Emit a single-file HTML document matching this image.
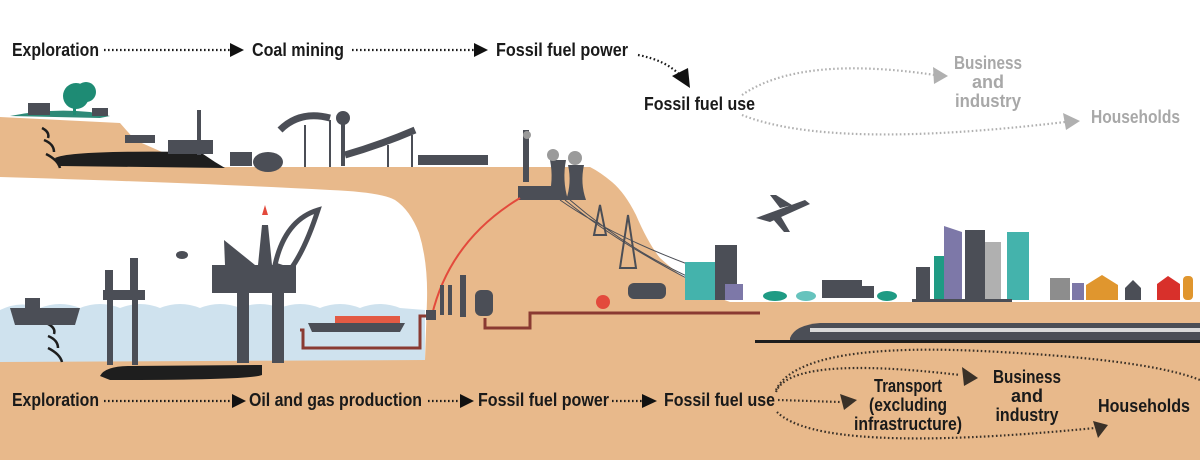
<!DOCTYPE html>
<html><head><meta charset="utf-8"><style>
html,body{margin:0;padding:0;background:#fff}
svg{display:block}
text{font-family:"Liberation Sans Narrow","Liberation Sans",sans-serif;font-weight:bold;font-size:18px;fill:#1a1a1a}
.g{fill:#a8a8a8}
.d{fill:none;stroke:#1a1a1a;stroke-width:2.2;stroke-dasharray:1.6 2.4}
.dg{fill:none;stroke:#b0b0b0;stroke-width:2.2;stroke-dasharray:1.6 2.4}
.d2{fill:none;stroke:#3a3128;stroke-width:2.2;stroke-dasharray:1.6 2.4}
.ic{fill:#4b4e56}
</style></head><body>
<svg width="1200" height="460" viewBox="0 0 1200 460" xmlns="http://www.w3.org/2000/svg">
<path d="M0 310 Q20 300 40 308 Q60 300 80 308 Q100 300 120 308 Q140 300 160 308 Q180 300 200 308 Q220 300 240 308 Q260 300 280 308 Q300 300 320 308 Q340 300 360 308 Q380 300 400 308 L425 310 L425 365 L0 365Z" fill="#cfe2ee"/>
<path d="M0 117 L120 123 L135 140 L162 152 L180 167 L590 167 Q600 172 612 182 Q625 193 636 215 Q648 243 660 258 Q690 285 716 297 L730 302 L1200 302 L1200 460 L0 460 L0 362 L425 360 L427 300 Q428 262 419 233 Q410 210 395 200 Q380 192 330 190 Q200 183 0 177 Z" fill="#e8b98b"/>
<path d="M10 116 Q50 108 90 112 L110 116 L100 118Z" fill="#2e8a78"/>
<path d="M55 158 Q70 150 200 152 L215 162 L225 168 L60 166Z" fill="#1e1e1e"/>
<path d="M100 376 Q105 366 130 366 L262 365 L262 375 Q250 380 110 380Z" fill="#1e1e1e"/>
<g fill="none" stroke="#1e1e1e" stroke-width="2.5">
<path d="M42 128 q8 4 6 10"/><path d="M44 140 q10 4 10 12"/><path d="M46 154 q12 6 14 14"/>
<path d="M48 324 q8 4 6 10"/><path d="M48 336 q10 4 10 12"/><path d="M48 348 q12 6 14 14"/>
</g>
<circle cx="76" cy="96" r="13" fill="#1e8b74"/><circle cx="86" cy="92" r="10" fill="#1e8b74"/>
<rect x="73" y="100" width="3" height="15" fill="#1e8b74"/>
<rect x="28" y="103" width="22" height="12" class="ic"/>
<rect x="92" y="108" width="16" height="8" class="ic"/>
<rect x="125" y="135" width="30" height="8" class="ic"/>
<rect x="168" y="140" width="45" height="14" class="ic"/>
<rect x="197" y="110" width="4" height="45" class="ic"/>
<rect x="230" y="152" width="22" height="14" class="ic"/>
<ellipse cx="268" cy="162" rx="15" ry="10" class="ic"/>
<path d="M280 130 Q300 110 330 118" stroke="#4b4e56" stroke-width="7" fill="none"/>
<path d="M345 155 Q380 145 415 130" stroke="#4b4e56" stroke-width="7" fill="none"/>
<g stroke="#4b4e56" stroke-width="2"><line x1="305" y1="125" x2="305" y2="167"/><line x1="330" y1="120" x2="330" y2="167"/><line x1="388" y1="145" x2="388" y2="167"/><line x1="412" y1="135" x2="412" y2="167"/></g>
<circle cx="343" cy="118" r="7" class="ic"/><rect x="341" y="118" width="4" height="48" class="ic"/>
<rect x="418" y="155" width="70" height="10" class="ic"/>
<rect x="523" y="130" width="6" height="52" class="ic"/>
<path d="M550 160 L566 160 Q562 180 568 200 L548 200 Q554 180 550 160Z" class="ic"/>
<path d="M568 165 L584 165 Q580 183 586 200 L566 200 Q572 183 568 165Z" class="ic"/>
<rect x="518" y="186" width="34" height="14" class="ic"/>
<circle cx="553" cy="155" r="6" fill="#9a9a9a"/><circle cx="575" cy="158" r="7" fill="#9a9a9a"/><circle cx="527" cy="135" r="4" fill="#9a9a9a"/>
<path d="M600 205 L594 235 L606 235Z M628 215 L620 268 L636 268Z" fill="none" stroke="#4b4e56" stroke-width="2"/>
<path d="M560 200 Q610 235 690 265 M565 200 Q620 245 700 285 M570 200 Q640 260 720 290" fill="none" stroke="#4b4e56" stroke-width="1"/>
<path d="M520 198 Q450 240 432 315" fill="none" stroke="#e34a3c" stroke-width="2"/>
<path d="M300 330 L303 330 L303 348 L420 348 L420 316 L432 316" fill="none" stroke="#8a3a32" stroke-width="3"/>
<path d="M485 318 L485 328 L530 328 L530 313 L760 313" fill="none" stroke="#8a3a32" stroke-width="3"/>
<circle cx="603" cy="302" r="7" fill="#e34a3c"/>
<rect x="426" y="310" width="10" height="10" class="ic"/>
<rect x="440" y="285" width="4" height="30" class="ic"/><rect x="448" y="285" width="4" height="30" class="ic"/>
<rect x="460" y="275" width="6" height="42" class="ic"/>
<rect x="475" y="290" width="18" height="26" rx="6" class="ic"/>
<path d="M10 308 L80 308 L75 325 L15 325Z" class="ic"/><rect x="25" y="298" width="15" height="10" class="ic"/>
<rect x="103" y="290" width="42" height="10" class="ic"/><rect x="107" y="300" width="6" height="65" class="ic"/><rect x="132" y="300" width="6" height="65" class="ic"/>
<rect x="130" y="258" width="8" height="32" class="ic"/><rect x="105" y="270" width="8" height="20" class="ic"/>
<rect x="212" y="265" width="84" height="28" class="ic"/><rect x="237" y="293" width="12" height="70" class="ic"/><rect x="272" y="293" width="12" height="70" class="ic"/>
<path d="M258 265 L262 225 L268 225 L272 265Z" class="ic"/><path d="M262 215 l3 -10 l3 10Z" fill="#e34a3c"/>
<path d="M224 240 L255 265 L225 265Z" class="ic"/>
<path d="M275 265 Q285 220 318 210 Q305 250 290 270Z" fill="none" stroke="#4b4e56" stroke-width="5"/>
<ellipse cx="182" cy="255" rx="6" ry="4" class="ic"/>
<path d="M308 323 L405 323 L400 332 L312 332Z" class="ic"/><rect x="335" y="316" width="65" height="7" fill="#e35a44"/>
<rect x="628" y="283" width="38" height="16" rx="6" class="ic"/>
<path d="M756 218 L805 200 L810 204 L770 222Z M780 208 L770 195 L776 195 L792 205Z M780 215 L790 232 L784 232 L772 218Z" class="ic"/>
<rect x="685" y="262" width="30" height="38" fill="#44b3ac"/><rect x="715" y="245" width="22" height="55" class="ic"/>
<rect x="725" y="284" width="18" height="16" fill="#7d78a8"/>
<ellipse cx="775" cy="296" rx="12" ry="5" fill="#1f9b84"/><ellipse cx="806" cy="296" rx="10" ry="5" fill="#66c3bd"/>
<rect x="822" y="280" width="40" height="18" class="ic"/><rect x="862" y="286" width="12" height="12" class="ic"/>
<ellipse cx="887" cy="296" rx="10" ry="5" fill="#1f9b84"/>
<rect x="916" y="267" width="14" height="33" class="ic"/><rect x="934" y="256" width="14" height="44" fill="#1f9b84"/>
<path d="M944 226 L962 232 L962 300 L944 300Z" fill="#7d78a8"/><rect x="965" y="230" width="20" height="70" class="ic"/>
<rect x="985" y="242" width="16" height="58" fill="#b0b0b0"/><rect x="1007" y="232" width="22" height="68" fill="#44b3ac"/>
<rect x="1050" y="278" width="20" height="22" fill="#8d8d8d"/><rect x="1072" y="283" width="12" height="17" fill="#7d78a8"/>
<path d="M1086 285 L1102 275 L1118 285 L1118 300 L1086 300Z" fill="#e0962e"/>
<path d="M1125 288 L1133 280 L1141 288 L1141 300 L1125 300Z" class="ic"/>
<path d="M1157 284 L1168 276 L1180 284 L1180 300 L1157 300Z" fill="#d8302b"/><rect x="1183" y="276" width="10" height="24" rx="4" fill="#e0962e"/>
<rect x="912" y="299" width="100" height="3" class="ic"/>
<path d="M790 338 Q795 325 820 323 L1200 323 L1200 340 L790 340Z" class="ic"/>
<rect x="810" y="328" width="390" height="4" fill="#d9d9d9"/>
<rect x="755" y="340" width="445" height="3" fill="#1e1e1e"/>

<text x="12" y="56" textLength="87" lengthAdjust="spacingAndGlyphs">Exploration</text>
<path class="d" d="M104 50 L230 50"/><path d="M230 43 L244 50 L230 57Z" fill="#111"/>
<text x="252" y="56" textLength="92" lengthAdjust="spacingAndGlyphs">Coal mining</text>
<path class="d" d="M352 50 L474 50"/><path d="M474 43 L488 50 L474 57Z" fill="#111"/>
<text x="496" y="56" textLength="132" lengthAdjust="spacingAndGlyphs">Fossil fuel power</text>
<path class="d" d="M638 55 Q665 60 680 75"/><path d="M672 76 L690 88 L688 68Z" fill="#111"/>
<text x="644" y="110" textLength="111" lengthAdjust="spacingAndGlyphs">Fossil fuel use</text>
<path class="dg" d="M742 95 Q800 55 935 75"/><path d="M933 67 L948 76 L934 84Z" fill="#b0b0b0"/>
<path class="dg" d="M742 115 Q830 150 1065 122"/><path d="M1063 113 L1080 121 L1066 130Z" fill="#b0b0b0"/>
<text class="g" x="988" y="69" text-anchor="middle" textLength="68" lengthAdjust="spacingAndGlyphs">Business</text>
<text class="g" x="988" y="88" text-anchor="middle">and</text>
<text class="g" x="988" y="107" text-anchor="middle" textLength="66" lengthAdjust="spacingAndGlyphs">industry</text>
<text class="g" x="1091" y="123" textLength="89" lengthAdjust="spacingAndGlyphs">Households</text>

<text x="12" y="406" textLength="87" lengthAdjust="spacingAndGlyphs">Exploration</text>
<path class="d" d="M104 401 L232 401"/><path d="M232 394 L246 401 L232 408Z" fill="#111"/>
<text x="249" y="406" textLength="173" lengthAdjust="spacingAndGlyphs">Oil and gas production</text>
<path class="d" d="M428 401 L460 401"/><path d="M460 394 L474 401 L460 408Z" fill="#111"/>
<text x="478" y="406" textLength="131" lengthAdjust="spacingAndGlyphs">Fossil fuel power</text>
<path class="d" d="M612 401 L642 401"/><path d="M642 394 L657 401 L642 408Z" fill="#111"/>
<text x="664" y="406" textLength="111" lengthAdjust="spacingAndGlyphs">Fossil fuel use</text>
<path class="d2" d="M778 400 L840 402"/><path d="M840 394 L857 400 L844 410Z" fill="#3a3128"/>
<path class="d2" d="M776 392 Q790 355 960 375"/><path d="M962 367 L978 378 L964 386Z" fill="#3a3128"/>
<path class="d2" d="M776 390 Q800 340 1000 352 Q1150 360 1200 380"/>
<path class="d2" d="M777 412 Q820 455 1095 428"/><path d="M1093 421 L1108 425 L1098 438Z" fill="#3a3128"/>
<text x="908" y="392" text-anchor="middle" textLength="68" lengthAdjust="spacingAndGlyphs">Transport</text>
<text x="908" y="411" text-anchor="middle" textLength="78" lengthAdjust="spacingAndGlyphs">(excluding</text>
<text x="908" y="430" text-anchor="middle" textLength="108" lengthAdjust="spacingAndGlyphs">infrastructure)</text>
<text x="1027" y="383" text-anchor="middle" textLength="68" lengthAdjust="spacingAndGlyphs">Business</text>
<text x="1027" y="402" text-anchor="middle">and</text>
<text x="1027" y="421" text-anchor="middle" textLength="63" lengthAdjust="spacingAndGlyphs">industry</text>
<text x="1098" y="412" textLength="92" lengthAdjust="spacingAndGlyphs">Households</text>
</svg>
</body></html>
